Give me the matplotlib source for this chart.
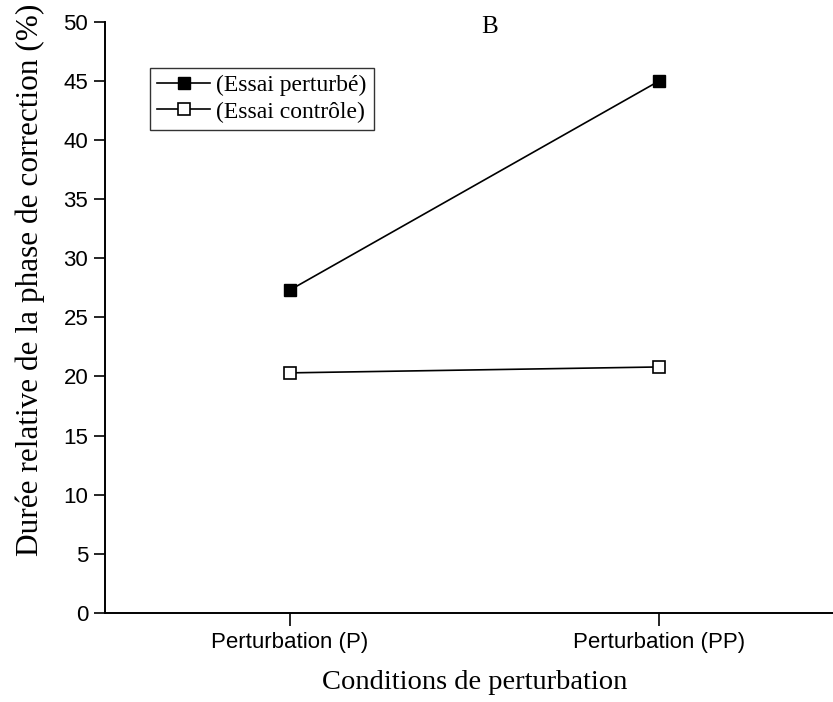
import matplotlib
matplotlib.use('Agg')
import matplotlib.pyplot as plt

# Data
conditions = ['Perturbation (P)', 'Perturbation (PP)']
essai_perturbe = [27.3, 45.0]
essai_controle = [20.3, 20.8]
y_ticks = [0, 5, 10, 15, 20, 25, 30, 35, 40, 45, 50]

fig = plt.figure(figsize=(8.33, 7.02), dpi=100)
ax = fig.add_axes([0.126, 0.127, 0.874, 0.842])

x = list(range(len(conditions)))
ax.plot(x, essai_perturbe, color='black', lw=1.2, marker='s', markersize=8.5,
        markerfacecolor='black', markeredgecolor='black', label='(Essai perturbé)')
ax.plot(x, essai_controle, color='black', lw=1.2, marker='s', markersize=8.5,
        markerfacecolor='white', markeredgecolor='black', markeredgewidth=1.2,
        label='(Essai contrôle)')

ax.set_xlim(-0.5, 1.47)
ax.set_ylim(0, 50)
ax.set_xticks(x)
ax.set_xticklabels(conditions, fontsize=16, family='Liberation Sans')
ax.set_yticks(y_ticks)
ax.set_yticklabels([str(t) for t in y_ticks], fontsize=16, family='Liberation Sans')
ax.tick_params(axis='y', direction='out', length=8, width=1.2, pad=4)
ax.tick_params(axis='x', direction='out', length=9, width=1.2, pad=5)

for s in ['top', 'right']:
    ax.spines[s].set_visible(False)
for s in ['left', 'bottom']:
    ax.spines[s].set_linewidth(1.4)

ax.set_ylabel('Durée relative de la phase de correction (%)', fontsize=22.5,
              family='Liberation Serif')
ax.yaxis.set_label_coords(-0.082, 0.563)
ax.set_xlabel('Conditions de perturbation', fontsize=20.5,
              family='Liberation Serif')
ax.xaxis.set_label_coords(0.508, -0.096)

# panel letter
fig.text(0.588, 0.9615, 'B', fontsize=18, family='Liberation Serif',
         ha='center', va='center')

leg = ax.legend(loc='upper left', bbox_to_anchor=(0.062, 0.922), borderaxespad=0,
                fancybox=False, frameon=True, edgecolor='black',
                prop={'family': 'Liberation Serif', 'size': 17},
                handlelength=2.25, borderpad=0.3, labelspacing=0.2, handletextpad=0.25)
leg.get_frame().set_linewidth(1.0)

fig.savefig('out.png', dpi=100)
